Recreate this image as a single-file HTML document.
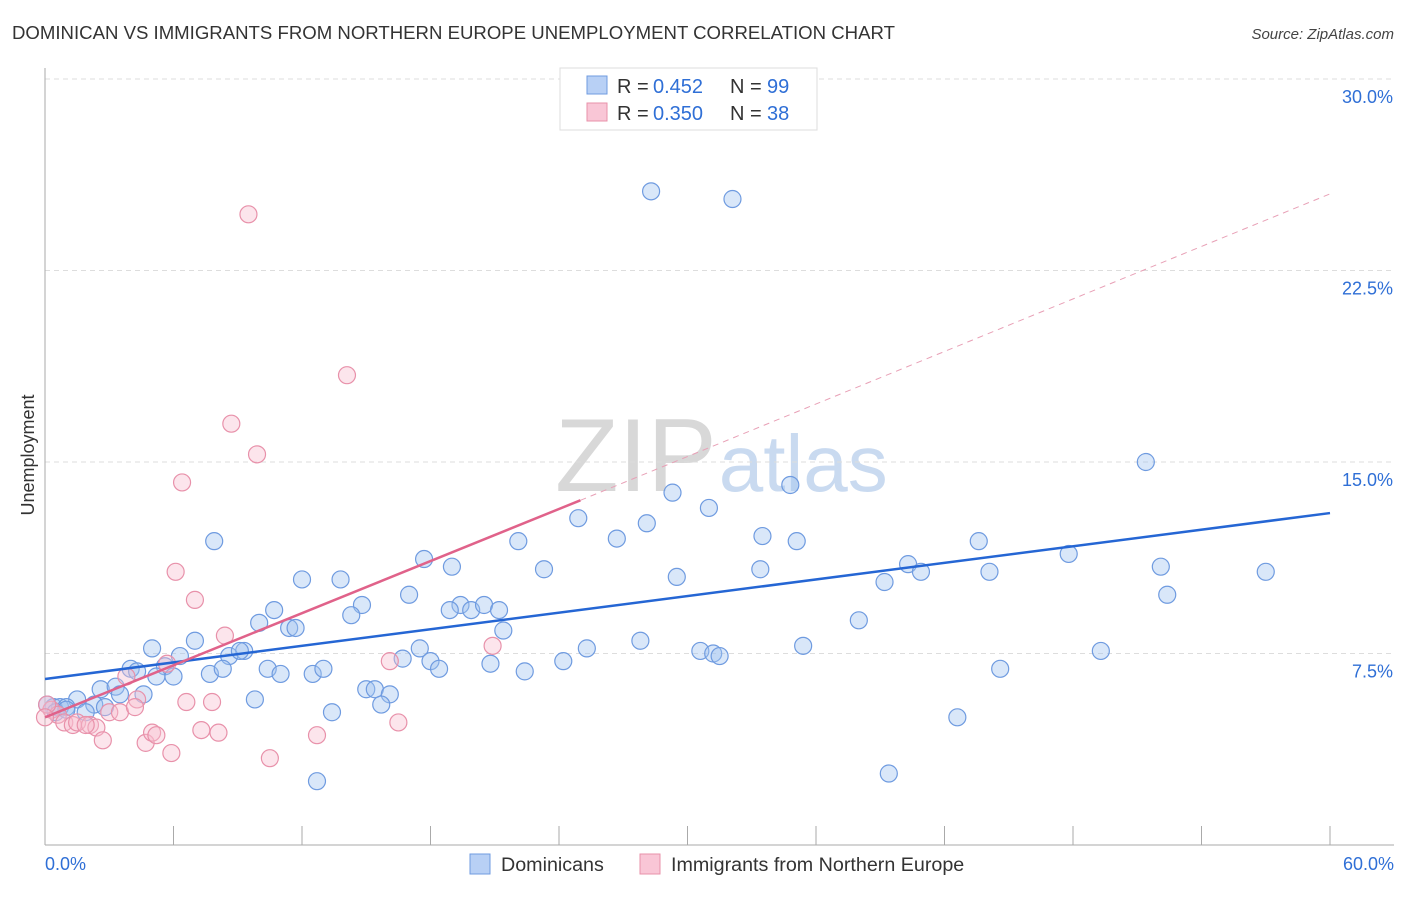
<!DOCTYPE html>
<html><head><meta charset="utf-8"><style>
body{margin:0;background:#fff;font-family:"Liberation Sans",sans-serif;}
svg text{font-family:"Liberation Sans",sans-serif;}
</style></head><body>
<svg id="chart" width="1406" height="892" xmlns="http://www.w3.org/2000/svg">
<text x="12" y="39" font-size="18.6" fill="#333">DOMINICAN VS IMMIGRANTS FROM NORTHERN EUROPE UNEMPLOYMENT CORRELATION CHART</text>
<text x="1394" y="39" font-size="15" fill="#444" font-style="italic" text-anchor="end">Source: ZipAtlas.com</text>
<text x="555" y="491" font-size="104" fill="#d8d8d8" font-family="Liberation Serif">ZIP<tspan fill="#c9daf0" font-family="Liberation Sans" font-size="80" dx="2">atlas</tspan></text>
<g id="grid"></g>
<g id="axes"></g>
<g id="pts"></g>
<g id="lines"></g>
<text x="34" y="455" font-size="18" fill="#333" text-anchor="middle" transform="rotate(-90 34 455)">Unemployment</text>
<g>
<rect x="560" y="68" width="257" height="62" fill="#fff" stroke="#ddd"/>
<rect x="587" y="76" width="20" height="18" fill="#b8d0f5" stroke="#6f9be0"/>
<rect x="587" y="103" width="20" height="18" fill="#f9c6d6" stroke="#e891aa"/>
<text x="617" y="93" font-size="20" fill="#333">R =</text><text x="653" y="93" font-size="20" fill="#2f6fd6">0.452</text>
<text x="730" y="93" font-size="20" fill="#333">N =</text><text x="767" y="93" font-size="20" fill="#2f6fd6">99</text>
<text x="617" y="120" font-size="20" fill="#333">R =</text><text x="653" y="120" font-size="20" fill="#2f6fd6">0.350</text>
<text x="730" y="120" font-size="20" fill="#333">N =</text><text x="767" y="120" font-size="20" fill="#2f6fd6">38</text>
</g>
<g>
<rect x="470" y="854" width="20" height="20" fill="#b8d0f5" stroke="#6f9be0"/>
<text x="501" y="871" font-size="19.7" fill="#333">Dominicans</text>
<rect x="640" y="854" width="20" height="20" fill="#f9c6d6" stroke="#e891aa"/>
<text x="671" y="871" font-size="19.7" fill="#333">Immigrants from Northern Europe</text>
</g>
</svg>
<script>
const xTicks=[0,10,20,30,40,50,60];
const yTicks=[7.5,15,22.5,30];
const blueX=[28.3,32.1,51.4,29.3,34.8,31.0,24.9,28.1,26.7,22.1,33.5,35.1,43.6,7.9,17.7,47.8,40.3,19,23.3,52.1,29.5,33.4,40.9,44.1,57,39.2,12.0,13.8,17,52.4,14.8,19.4,19.9,20.5,21.2,10.7,18.9,14.3,10,11.4,11.7,38.0,21.4,7,27.8,5.0,17.5,25.3,35.4,30.6,31.2,31.5,49.3,6.3,9.3,8.6,16.7,24.2,18,20.8,4.0,5.6,4.3,7.7,8.3,10.4,11,12.5,13,18.4,22.4,44.6,5.2,6,2.6,3.3,3.5,4.6,15,15.4,16.1,1.5,2.3,2.8,9.8,15.7,13.4,0.4,0.7,1,1.9,42.6,12.7,39.4,0.1,0.5,1,9.1];
const blueY=[25.6,25.3,15,13.8,14.1,13.2,12.8,12.6,12,11.9,12.1,11.9,11.9,11.9,11.2,11.4,11,10.9,10.8,10.9,10.5,10.8,10.7,10.7,10.7,10.3,10.4,10.4,9.8,9.8,9.4,9.4,9.2,9.4,9.2,9.2,9.2,9,8.7,8.5,8.5,8.8,8.4,8,8,7.7,7.7,7.7,7.8,7.6,7.5,7.4,7.6,7.4,7.6,7.4,7.3,7.2,7.2,7.1,6.9,7,6.8,6.7,6.9,6.9,6.7,6.7,6.9,6.9,6.8,6.9,6.6,6.6,6.1,6.2,5.9,5.9,6.1,6.1,5.9,5.7,5.5,5.4,5.7,5.5,5.2,5.4,5.4,5.4,5.2,5,2.5,2.8,5.5,5.2,5.3,7.6];
const pinkX=[9.5,14.1,8.7,9.9,6.4,6.1,7,8.4,20.9,16.1,5.7,3.8,4.3,6.6,7.8,3.0,3.5,4.2,0.3,0.6,0.9,1.3,1.5,2.1,2.4,1.9,2.7,4.7,5.0,5.2,5.9,7.3,8.1,10.5,12.7,16.5,0.1,0];
const pinkY=[24.7,18.4,16.5,15.3,14.2,10.7,9.6,8.2,7.8,7.2,7.1,6.6,5.7,5.6,5.6,5.2,5.2,5.4,5.3,5.1,4.8,4.7,4.8,4.7,4.6,4.7,4.1,4,4.4,4.3,3.6,4.5,4.4,3.4,4.3,4.8,5.5,5];
const blueFit=[[0,6.5],[60,13.0]];
const pinkFit=[[0,5.0],[25,13.5]];
const pinkExt=[[25,13.5],[60,25.5]];
const X=v=>45+v/60*1285, Y=v=>845-v/7.5*191.5;
const NS="http://www.w3.org/2000/svg";
function mk(t,a,p){const e=document.createElementNS(NS,t);for(const k in a)e.setAttribute(k,a[k]);p.appendChild(e);return e;}
const grid=document.getElementById('grid'),axes=document.getElementById('axes'),pts=document.getElementById('pts'),lines=document.getElementById('lines');
yTicks.forEach(v=>{const l=mk('line',{x1:45,x2:1394,y1:Y(v),y2:Y(v),stroke:'#ddd','stroke-dasharray':'5,4'},grid);


const t=mk('text',{x:1393,y:Y(v)+24,'font-size':18,fill:'#2f6fd6','text-anchor':'end'},axes);t.textContent=v.toFixed(1)+'%';

});
const ax=mk('line',{x1:45,x2:1394,y1:845,y2:845,stroke:'#aaa'},axes);


const ay=mk('line',{x1:45,x2:45,y1:68,y2:845,stroke:'#aaa'},axes);


for(let i=1;i<=10;i++){const v=i*6;const tk=mk('line',{x1:X(v),x2:X(v),y1:826,y2:845,stroke:'#aaa'},axes);

}
[[0,'start'],[60,'end']].forEach(([v,a])=>{const t=mk('text',{x:v==0?45:1394,y:870,'font-size':18,fill:'#2f6fd6','text-anchor':a},axes);t.textContent=v.toFixed(1)+'%';

});
blueX.forEach((v,i)=>{const c=mk('circle',{cx:X(v),cy:Y(blueY[i]),r:8.5,fill:'rgba(160,195,240,0.4)',stroke:'#6f9be0','stroke-width':1.2},pts);

});
pinkX.forEach((v,i)=>{const c=mk('circle',{cx:X(v),cy:Y(pinkY[i]),r:8.5,fill:'rgba(248,190,208,0.4)',stroke:'#e891aa','stroke-width':1.2},pts);

});
const bl=mk('line',{x1:X(blueFit[0][0]),y1:Y(blueFit[0][1]),x2:X(blueFit[1][0]),y2:Y(blueFit[1][1]),stroke:'#2566d4','stroke-width':2.5},lines);


const pl=mk('line',{x1:X(pinkFit[0][0]),y1:Y(pinkFit[0][1]),x2:X(pinkFit[1][0]),y2:Y(pinkFit[1][1]),stroke:'#e0628a','stroke-width':2.5},lines);


const pe=mk('line',{x1:X(pinkExt[0][0]),y1:Y(pinkExt[0][1]),x2:X(pinkExt[1][0]),y2:Y(pinkExt[1][1]),stroke:'#e8a0b6','stroke-width':1,'stroke-dasharray':'6,5'},lines);


</script>
</body></html>
